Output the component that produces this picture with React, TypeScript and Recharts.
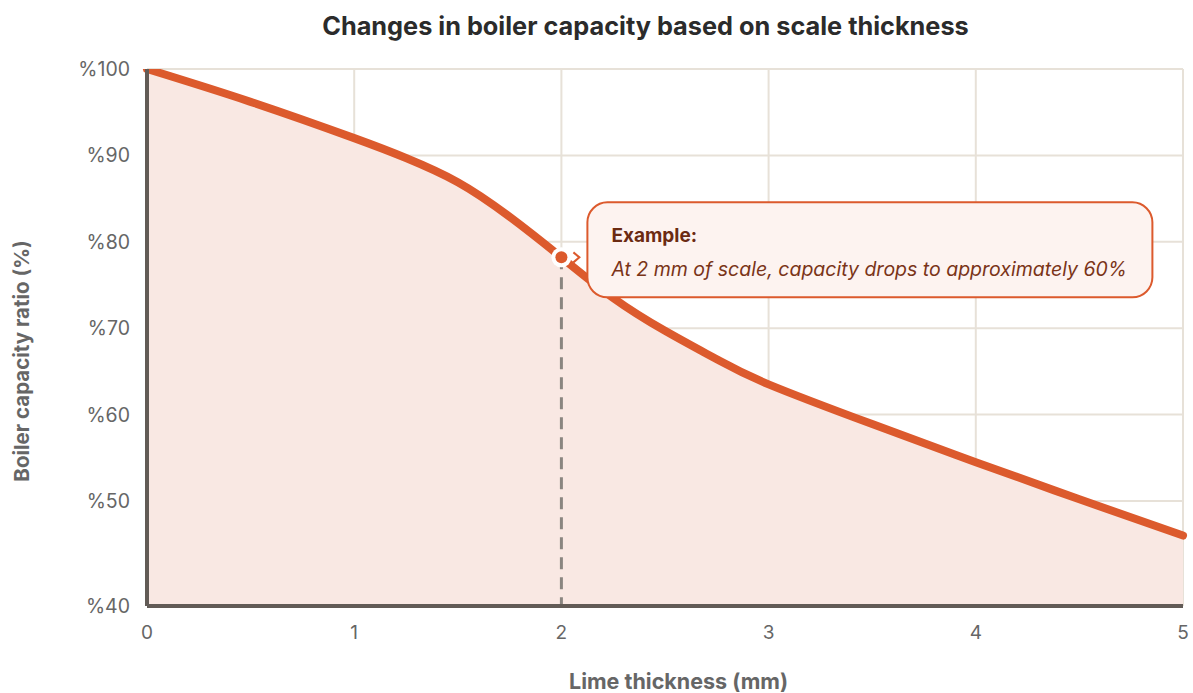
import React from 'react';
import {
  ComposedChart, Area, XAxis, YAxis, CartesianGrid, ReferenceLine, ReferenceDot
} from 'recharts';

// thickness (mm) vs capacity (%)
const thickness = [0, 0.5, 1, 1.25, 1.5, 1.75, 2, 2.25, 2.5, 2.75, 3, 3.5, 4, 4.5, 5];
const capacity = [100, 96.2, 92.0, 89.7, 86.9, 82.9, 78.2, 73.5, 69.7, 66.4, 63.5, 58.9, 54.5, 50.2, 46.0];

const xTicks = [0, 1, 2, 3, 4, 5];
const yMin = 37.85;
const yTicks = [yMin, 50, 60, 70, 80, 90, 100];

const exampleX = 2;
const exampleY = 78.2;

const data = thickness.map((t, i) => ({ t, v: capacity[i] }));

const FONT = 'Inter, "Noto Sans", sans-serif';
const ORANGE = '#dc5a2d';

const Annotation = (props: any) => {
  const { cx, cy } = props;
  if (cx == null || cy == null) return null;
  return (
    <g>
      <rect x={cx + 26} y={cy - 55} width={565} height={95} rx={20} ry={20}
        fill="#fdf3f0" stroke={ORANGE} strokeWidth={2} />
      <text x={cx + 50} y={cy - 15} fontFamily={FONT} fontSize={19} fontWeight={700} fill="#6b2a12">
        Example:
      </text>
      <text x={cx + 50} y={cy + 19} fontFamily={FONT} fontSize={19.5} fontStyle="italic" fill="#7a3418">
        At 2 mm of scale, capacity drops to approximately 60%
      </text>
      <circle cx={cx} cy={cy} r={10} fill="#fff" />
      <circle cx={cx} cy={cy} r={6} fill={ORANGE} />
      <path d={`M ${cx + 12} ${cy - 5} L ${cx + 18} ${cy} L ${cx + 12} ${cy + 5}`}
        fill="none" stroke={ORANGE} strokeWidth={2} />
    </g>
  );
};

const App = () => {
  return (
    <div style={{ position: 'absolute', left: 0, top: 0, width: 1193, height: 693, background: '#fff', fontFamily: FONT }}>
      <div style={{ position: 'absolute', left: 0, width: 1291, top: 10, textAlign: 'center', fontSize: 25.3, fontWeight: 700, color: '#2b2b2b' }}>
        Changes in boiler capacity based on scale thickness
      </div>
      <div style={{ position: 'absolute', left: 0, width: 1357, top: 668, textAlign: 'center', fontSize: 21.5, fontWeight: 700, color: '#666' }}>
        Lime thickness (mm)
      </div>
      <div style={{
        position: 'absolute', left: 21, top: 361, transform: 'translate(-50%, -50%) rotate(-90deg)',
        whiteSpace: 'nowrap', fontSize: 20.5, fontWeight: 700, color: '#666'
      }}>
        Boiler capacity ratio (%)
      </div>
      <ComposedChart width={1193} height={693} data={data}
        margin={{ top: 69, right: 10, bottom: 27, left: 0 }} style={{ position: 'absolute', left: 0, top: 0 }}>
        <CartesianGrid stroke="#e7e1d8" strokeWidth={2} />
        <XAxis dataKey="t" type="number" domain={[0, 5]} ticks={xTicks} height={60}
          axisLine={{ stroke: '#625b56', strokeWidth: 4 }} tickLine={false} tickSize={8} tickMargin={12}
          tick={{ fill: '#666', fontSize: 19, fontFamily: FONT }} />
        <YAxis type="number" domain={[yMin, 100]} ticks={yTicks} width={147} allowDataOverflow
          axisLine={{ stroke: '#625b56', strokeWidth: 4 }} tickLine={false} tickSize={8} tickMargin={9}
          tick={{ fill: '#666', fontSize: 19.5, fontFamily: FONT }}
          tickFormatter={(v: number) => `%${v < 40 ? 40 : v}`} />
        <Area type="natural" dataKey="v" stroke={ORANGE} strokeWidth={8} strokeLinecap="round"
          fill="#f9e8e3" fillOpacity={1} baseValue={yMin} dot={false} activeDot={false}
          isAnimationActive={false} />
        <ReferenceLine segment={[{ x: exampleX, y: exampleY }, { x: exampleX, y: yMin }]}
          stroke="#8a8580" strokeWidth={3} strokeDasharray="12 8" />
        <ReferenceDot x={exampleX} y={exampleY} r={10} shape={(p: any) => <Annotation {...p} />} />
      </ComposedChart>
    </div>
  );
};

export default App;
